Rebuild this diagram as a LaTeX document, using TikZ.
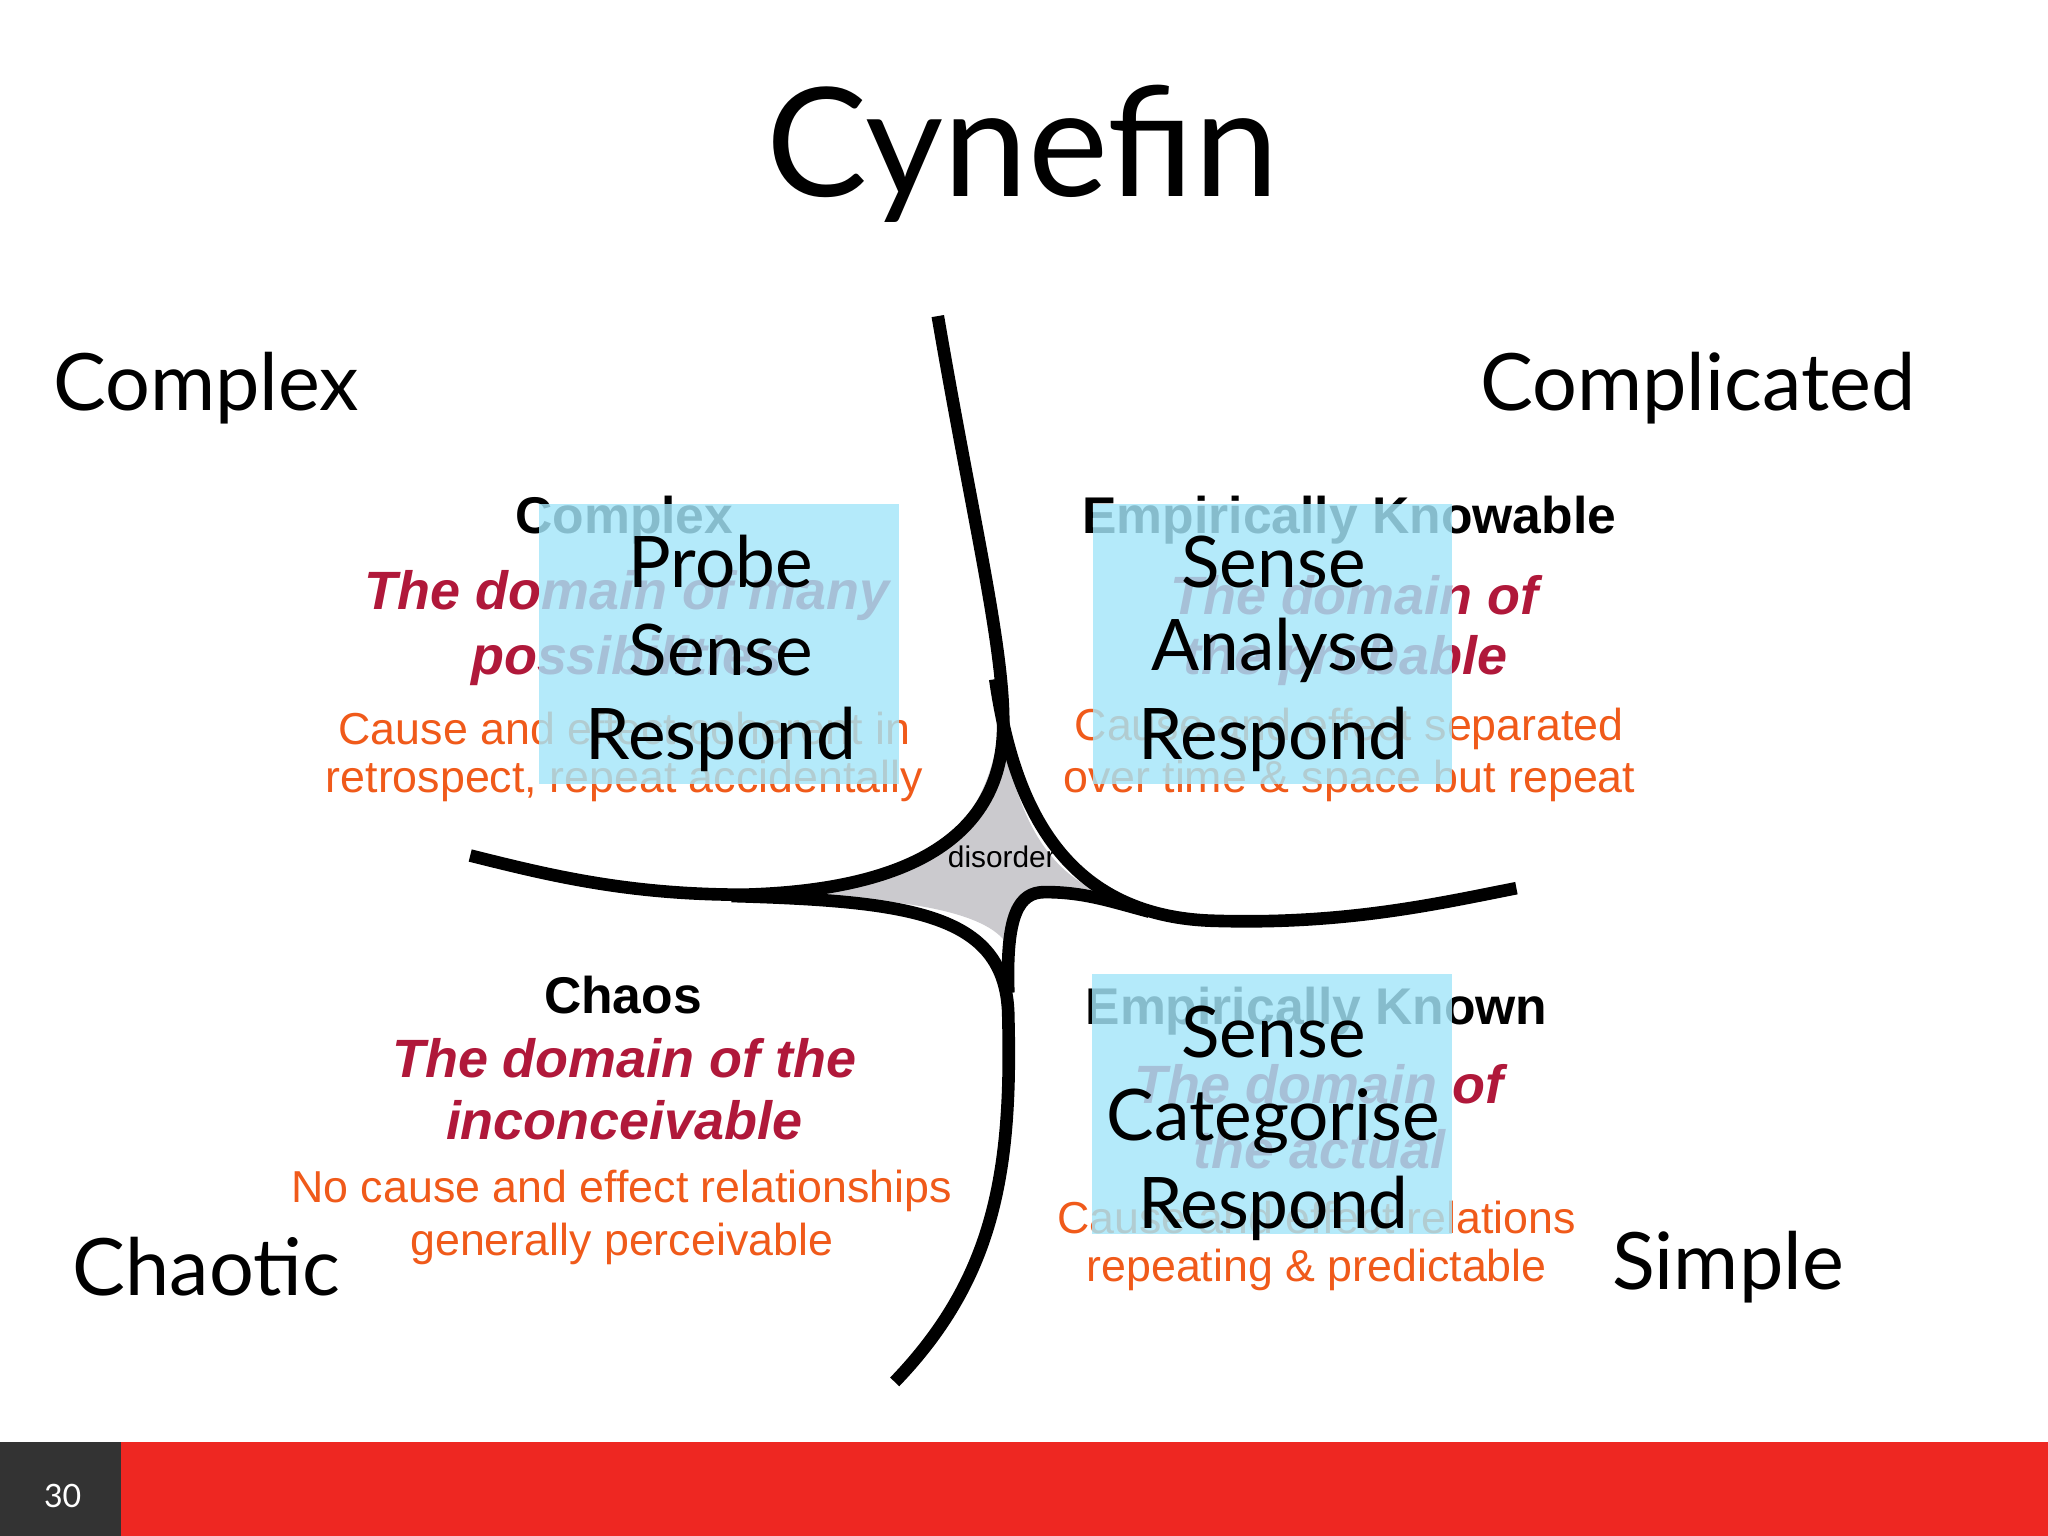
\documentclass[tikz,border=0pt]{standalone}
\usepackage{fontspec}
\setmainfont{Liberation Sans}
\newfontfamily\gill{Lato}
\begin{document}
\begin{tikzpicture}[x=0.02cm,y=-0.02cm,
  corner/.style={font=\gill\fontsize{34.5}{38}\selectfont},
  hd/.style={font=\bfseries\fontsize{22.5}{25}\selectfont},
  dom/.style={font=\bfseries\itshape\fontsize{23.5}{26}\selectfont,text=domred},
  ce/.style={font=\fontsize{19.5}{22}\selectfont,text=ceorange},
  act/.style={font=\gill\fontsize{31}{34}\selectfont},
  boxs/.style={fill=boxblue,fill opacity=0.82,draw=none},
  bnd/.style={line width=5.5pt,line cap=butt}]
\definecolor{domred}{HTML}{B0183A}
\definecolor{ceorange}{HTML}{F05A1A}
\definecolor{boxblue}{HTML}{A4E6FA}
\definecolor{dis}{HTML}{CBCACE}
\definecolor{barred}{HTML}{EE2722}
\useasboundingbox (0,0) rectangle (1568,1176);
\fill[white] (0,0) rectangle (1568,1176);
% bottom bar
\fill[black!80] (0,1104) rectangle (93,1176);
\fill[barred] (93,1104) rectangle (1568,1176);
\node[text=white,font=\gill\fontsize{14}{16}\selectfont] (pg) at (48,1145) {30};
% title and corners
\node[font=\gill\fontsize{66}{70}\selectfont] (title) at (783,118) {Cynefin};
\node[corner] (cx) at (158,297) {Complex};
\node[corner] (cd) at (1300,297) {Complicated};
\node[corner] (ch) at (158,970) {Chaotic};
\node[corner] (si) at (1323,970) {Simple};
% disorder region
\fill[dis] (766,545) .. controls (775,620) and (800,670) .. (850,686)
  -- (790,684) .. controls (775,690) and (772,705) .. (772,725)
  .. controls (760,700) and (700,688) .. (610,686)
  .. controls (700,675) and (760,640) .. cycle;
% boundaries
\draw[bnd] (718,242) .. controls (745,400) and (770,500) .. (768,560)
  .. controls (765,650) and (680,682) .. (570,685)
  .. controls (480,685) and (420,670) .. (360,655);
\draw[bnd] (762,520) .. controls (775,610) and (810,702) .. (930,705)
  .. controls (1030,708) and (1100,692) .. (1161,680);
\draw[bnd] (560,686) .. controls (700,690) and (772,700) .. (772,780)
  .. controls (775,900) and (760,980) .. (685,1058);
\draw[bnd] (772,760) .. controls (770,700) and (780,683) .. (800,683)
  .. controls (830,683) and (850,690) .. (880,698);
\node[font=\fontsize{13}{15}\selectfont] (dd) at (767,656) {disorder};
% UL texts
\node[hd] (a1) at (478,398) {Complex};
\node[dom] (a2) at (480,456) {The domain of many};
\node[dom] (a3) at (480,506) {possibilities};
\node[ce] (a4) at (478,558) {Cause and effect coherent in};
\node[ce] (a5) at (478,598) {retrospect, repeat accidentally};
% UR texts
\node[hd] (b1) at (1033,398) {Empirically Knowable};
\node[dom] (b2) at (1037,456) {The domain of};
\node[dom] (b3) at (1030,506) {the probable};
\node[ce] (b4) at (1033,558) {Cause and effect separated};
\node[ce] (b5) at (1033,598) {over time \& space but repeat};
% LL texts
\node[hd] (c1) at (477,762) {Chaos};
\node[dom] (c2) at (478,810) {The domain of the};
\node[dom] (c3) at (478,858) {inconceivable};
\node[ce] (c4) at (476,912) {No cause and effect relationships};
\node[ce] (c5) at (476,952) {generally perceivable};
% LR texts
\node[hd] (d1) at (1008,774) {Empirically Known};
\node[dom] (d2) at (1010,830) {The domain of};
\node[dom] (d3) at (1010,880) {the actual};
\node[ce] (d4) at (1008,932) {Cause and effect relations};
\node[ce] (d5) at (1008,972) {repeating \& predictable};
% boxes
\fill[boxs] (413,386) rectangle (688,600);
\fill[boxs] (837,386) rectangle (1112,600);
\fill[boxs] (836,746) rectangle (1112,945);
\node[act] (p1) at (552,430) {Probe};
\node[act] (p2) at (552,498) {Sense};
\node[act] (p3) at (552,566) {Respond};
\node[act] (q1) at (975,430) {Sense};
\node[act] (q2) at (975,498) {Analyse};
\node[act] (q3) at (975,566) {Respond};
\node[act] (r1) at (975,790) {Sense};
\node[act] (r2) at (975,858) {Categorise};
\node[act] (r3) at (975,925) {Respond};
\end{tikzpicture}
\end{document}
